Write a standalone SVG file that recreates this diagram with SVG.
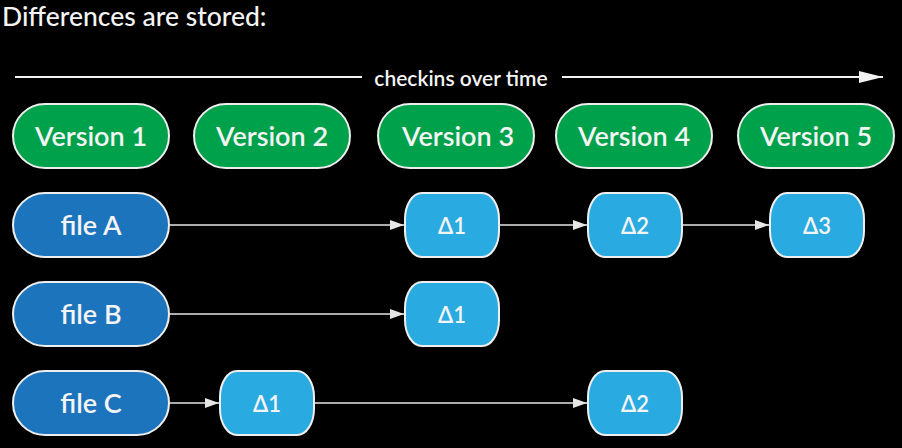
<svg xmlns="http://www.w3.org/2000/svg" width="902" height="448" viewBox="0 0 902 448">
<defs>
<marker id="ah" viewBox="0 0 14 10" refX="14" refY="5" markerWidth="14" markerHeight="10" markerUnits="userSpaceOnUse" orient="auto">
<path d="M0,0 L14,5 L0,10 z" fill="#e6e6e6"/>
</marker>
<marker id="ahBig" viewBox="0 0 24 12" refX="24" refY="6" markerWidth="24" markerHeight="12" markerUnits="userSpaceOnUse" orient="auto">
<path d="M0,0 L24,6 L0,12 z" fill="#f2f2f2"/>
</marker>
</defs>
<style>
text{font-family:Lato,"Open Sans","Liberation Sans",sans-serif;fill:#f4f4f4;text-anchor:middle;dominant-baseline:central;font-weight:600}
.ver{fill:#00a14b;stroke:#eeeeee;stroke-width:2}
.file{fill:#1c75bc;stroke:#eeeeee;stroke-width:2}
.delta{fill:#29abe2;stroke:#eeeeee;stroke-width:2}
.vt{font-size:27px}
.ft{font-size:27px}
.dt{font-size:22px}
.conn{stroke:#e6e6e6;stroke-width:1.5;fill:none}
</style>
<rect width="902" height="448" fill="#000"/>
<text x="2" y="16" style="text-anchor:start;font-size:26.5px;font-weight:500">Differences are stored:</text>
<g id="timeline">
<line x1="15" y1="77" x2="362" y2="77" stroke="#f2f2f2" stroke-width="2"/>
<line x1="562" y1="77" x2="883" y2="77" stroke="#f2f2f2" stroke-width="2" marker-end="url(#ahBig)"/>
<text x="461" y="77" style="font-size:21px">checkins over time</text>
</g>
<g id="v1"><rect class="ver" x="13" y="104" width="156" height="64" rx="32"/><text class="vt" x="91" y="135">Version 1</text></g>
<g id="v2"><rect class="ver" x="194" y="104" width="156" height="64" rx="32"/><text class="vt" x="272" y="135">Version 2</text></g>
<g id="v3"><rect class="ver" x="378" y="104" width="156" height="64" rx="32"/><text class="vt" x="458" y="135">Version 3</text></g>
<g id="v4"><rect class="ver" x="556" y="104" width="156" height="64" rx="32"/><text class="vt" x="634" y="135">Version 4</text></g>
<g id="v5"><rect class="ver" x="738" y="104" width="156" height="64" rx="32"/><text class="vt" x="816" y="135">Version 5</text></g>
<g id="fileA"><rect class="file" x="13" y="193" width="156" height="64" rx="32"/><text class="ft" x="91" y="224">file A</text></g>
<g id="fileB"><rect class="file" x="13" y="282" width="156" height="64" rx="32"/><text class="ft" x="91" y="313">file B</text></g>
<g id="fileC"><rect class="file" x="13" y="371" width="156" height="64" rx="32"/><text class="ft" x="91" y="402">file C</text></g>
<g id="a1"><rect class="delta" x="405" y="193" width="94" height="64" rx="17" ry="26"/><text class="dt" x="452" y="225">Δ1</text></g>
<g id="a2"><rect class="delta" x="588" y="193" width="94" height="64" rx="17" ry="26"/><text class="dt" x="635" y="225">Δ2</text></g>
<g id="a3"><rect class="delta" x="770" y="193" width="94" height="64" rx="17" ry="26"/><text class="dt" x="817" y="225">Δ3</text></g>
<g id="b1"><rect class="delta" x="405" y="282" width="94" height="64" rx="17" ry="26"/><text class="dt" x="452" y="314">Δ1</text></g>
<g id="c1"><rect class="delta" x="220" y="371" width="94" height="64" rx="17" ry="26"/><text class="dt" x="267" y="403">Δ1</text></g>
<g id="c2"><rect class="delta" x="588" y="371" width="94" height="64" rx="17" ry="26"/><text class="dt" x="635" y="403">Δ2</text></g>
<g id="connectors">
<line class="conn" x1="169" y1="225" x2="404" y2="225" marker-end="url(#ah)"/>
<line class="conn" x1="499" y1="225" x2="587" y2="225" marker-end="url(#ah)"/>
<line class="conn" x1="682" y1="225" x2="769" y2="225" marker-end="url(#ah)"/>
<line class="conn" x1="169" y1="314" x2="404" y2="314" marker-end="url(#ah)"/>
<line class="conn" x1="169" y1="403" x2="219" y2="403" marker-end="url(#ah)"/>
<line class="conn" x1="314" y1="403" x2="587" y2="403" marker-end="url(#ah)"/>
</g>
</svg>
